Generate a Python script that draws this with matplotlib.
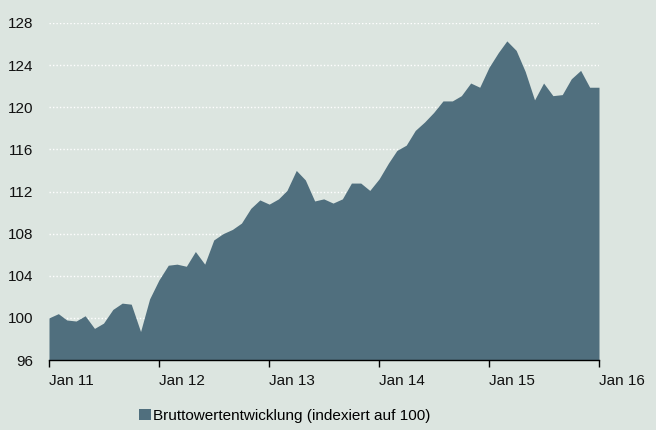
import matplotlib
matplotlib.use("Agg")
import matplotlib.pyplot as plt
import numpy as np
import pandas as pd

plt.rcParams['font.family'] = ['Liberation Sans', 'DejaVu Sans']

dates = pd.date_range("2011-01-01", "2016-01-01", freq="MS")
values = [100.0, 100.4, 99.8, 99.7, 100.2, 99.0, 99.5, 100.8, 101.4, 101.3,
          98.7, 101.8, 103.6, 105.0, 105.1, 104.9, 106.3, 105.1, 107.4, 108.0,
          108.4, 109.0, 110.4, 111.2, 110.8, 111.3, 112.1, 114.0, 113.1, 111.1,
          111.3, 110.9, 111.3, 112.8, 112.8, 112.1, 113.2, 114.7, 115.9, 116.4,
          117.8, 118.6, 119.5, 120.6, 120.6, 121.1, 122.3, 121.9, 123.8, 125.2,
          126.3, 125.4, 123.4, 120.7, 122.3, 121.1, 121.2, 122.7, 123.5, 121.9,
          121.9]
series_label = "Bruttowertentwicklung (indexiert auf 100)"
yticks = [96, 100, 104, 108, 112, 116, 120, 124, 128]
xtick_dates = pd.date_range("2011-01-01", "2016-01-01", freq="YS")
xtick_labels = ["Jan 11", "Jan 12", "Jan 13", "Jan 14", "Jan 15", "Jan 16"]

bg = "#dce5e0"
area = "#506f7e"

fig = plt.figure(figsize=(6.56, 4.30), dpi=100, facecolor=bg)
ax = fig.add_axes([49/656, 1-360/430, 550/656, 337/430])
ax.set_facecolor(bg)

ax.fill_between(dates, values, 96, color=area, linewidth=0, label=series_label, zorder=2)

ax.set_ylim(96, 128)
ax.set_xlim(dates[0], dates[-1])
ax.set_yticks(yticks)
ax.set_yticklabels([str(v) for v in yticks])
for v in yticks[1:]:
    ax.axhline(v, color="white", linestyle=(0, (1, 1.5)), linewidth=1.0, zorder=1)

ax.set_xticks(xtick_dates)
ax.set_xticklabels(xtick_labels, ha="left")
for s in ["top", "right", "left"]:
    ax.spines[s].set_visible(False)
ax.spines["bottom"].set_color("black")
ax.spines["bottom"].set_linewidth(1.0)
ax.spines["bottom"].set_zorder(3)
ax.tick_params(axis="y", length=0, pad=11.5, labelsize=11, labelcolor="#111111")
ax.tick_params(axis="x", length=5, width=1, direction="out", pad=5, labelsize=11, labelcolor="#111111")

leg = fig.legend(loc="center", bbox_to_anchor=(285/656, 1-416/430), frameon=False,
                 fontsize=11, handlelength=0.75, handleheight=0.75, handletextpad=0.15)

fig.savefig("out.png", dpi=100, facecolor=bg)
